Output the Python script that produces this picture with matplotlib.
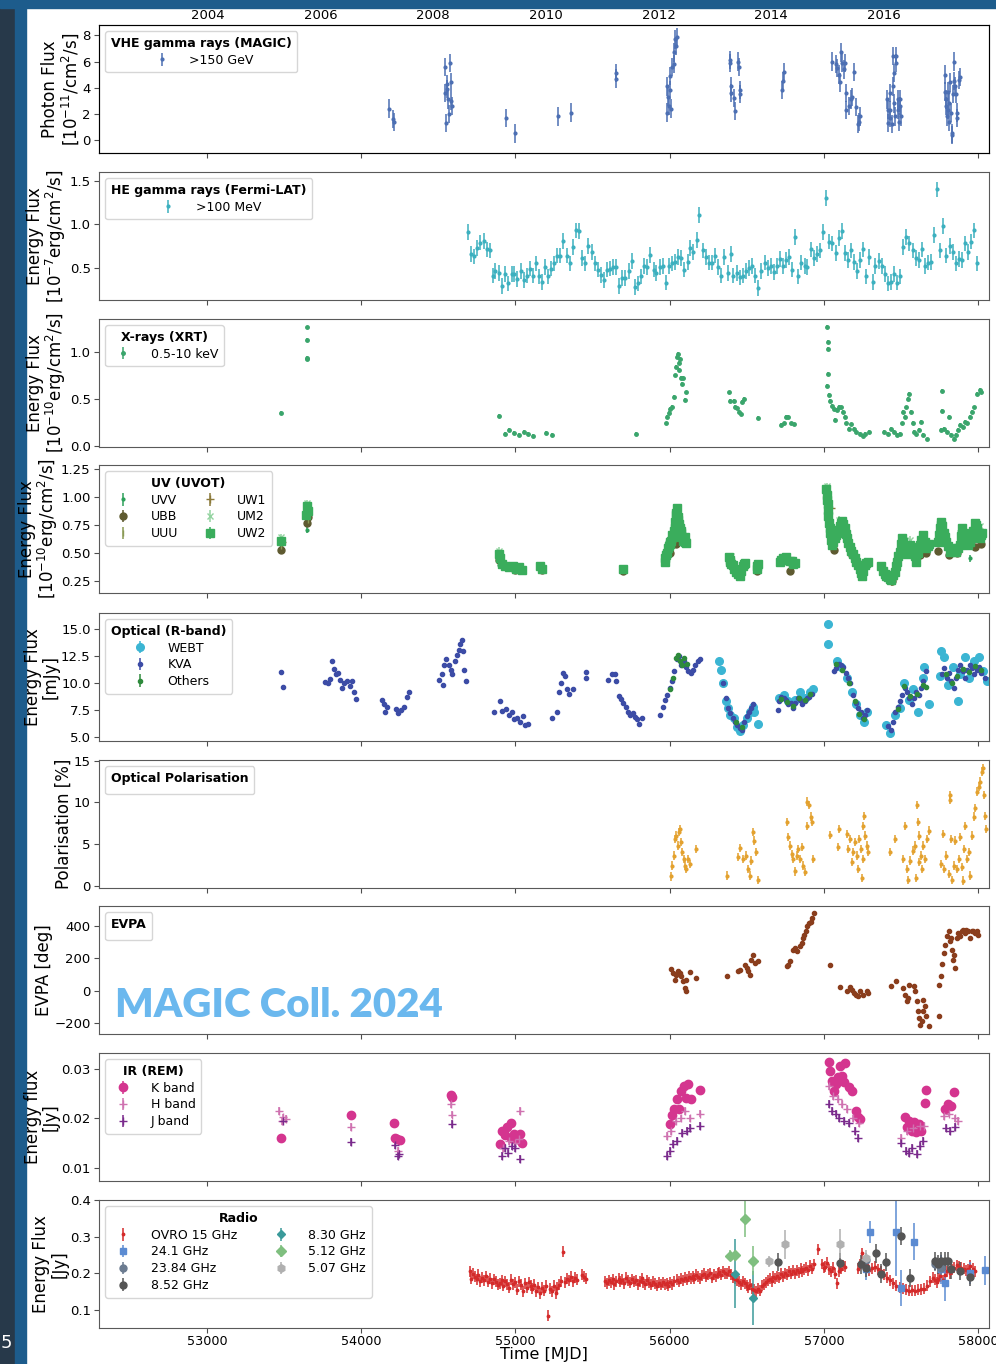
import matplotlib
matplotlib.use("Agg")
import matplotlib.pyplot as plt
from matplotlib.patches import Rectangle
import datetime

# ---------------- data (MJD / flux) ----------------
vhe_mjd = [54179, 54205, 54212, 54542, 54546, 54550, 54553, 54557, 54560, 54566, 54573, 54579, 54584, 54588,
           54938, 54996, 55275, 55359, 55650, 55652,
           55980, 55985, 55990, 55995, 56000, 56005, 56010, 56015, 56025, 56030, 56035, 56040, 56045,
           56390, 56392, 56395, 56397, 56420, 56425, 56445, 56450, 56453, 56455,
           56728, 56733, 56740,
           57050, 57075, 57085, 57095, 57105, 57112, 57120, 57128, 57135, 57142, 57145, 57160, 57175,
           57185, 57195, 57210, 57220, 57228, 57232,
           57406, 57412, 57417, 57425, 57430, 57428, 57440, 57448, 57450, 57452, 57455, 57460, 57465,
           57468, 57478, 57482, 57485, 57490, 57495, 57500,
           57783, 57785, 57788, 57792, 57797, 57802, 57807, 57810, 57813, 57817, 57822, 57827, 57832,
           57835, 57840, 57845, 57850, 57855, 57860, 57864, 57875, 57880]
vhe_flux = [2.4, 1.6, 1.4, 5.6, 3.6, 1.3, 4.3, 3.9, 3.1, 2.0, 5.9, 4.4, 3.0, 2.6,
            1.7, 0.5, 1.8, 2.1, 5.1, 4.7,
            2.1, 4.1, 3.3, 2.6, 4.9, 3.8, 2.4, 5.6, 6.7, 5.8, 7.7, 7.2, 7.9,
            6.1, 5.9, 4.1, 3.6, 3.2, 2.2, 6.0, 5.6, 3.8, 3.5,
            3.8, 4.5, 5.2,
            6.0, 5.8, 5.5, 5.0, 4.4, 6.7, 5.9, 5.4, 5.9, 3.6, 2.3, 2.6, 3.1,
            3.3, 5.2, 2.5, 1.2, 1.4, 1.8,
            3.1, 1.3, 2.3, 3.6, 2.3, 1.7, 1.2, 4.1, 6.4, 5.1, 2.8, 1.8, 5.9,
            6.4, 3.1, 2.3, 1.4, 2.6, 3.1, 1.8,
            5.0, 3.7, 3.1, 2.6, 1.8, 2.3, 3.7, 1.4, 2.8, 4.4, 2.1, 0.5, 0.4,
            3.5, 4.5, 6.0, 4.1, 3.5, 2.1, 1.7, 4.6, 4.8]
vhe_err = 0.7

fermi_mjd = [54693, 54711, 54731, 54752, 54772, 54793, 54813, 54834, 54852, 54870, 54891, 54913, 54934,
             54954, 54975, 54993, 55013, 55034, 55054, 55075, 55095, 55113, 55134, 55154, 55172, 55193,
             55213, 55232, 55252, 55270, 55291, 55311, 55332, 55352, 55372, 55393, 55413, 55432, 55452,
             55472, 55493, 55513, 55534, 55554, 55575, 55593, 55613, 55632, 55650, 55673, 55693, 55713,
             55734, 55754, 55775, 55795, 55816, 55836, 55854, 55875, 55895, 55913, 55934, 55954, 55975,
             55993, 56013, 56034, 56054, 56075, 56095, 56116, 56134, 56154, 56175, 56193, 56213, 56234,
             56254, 56275, 56295, 56316, 56334, 56354, 56375, 56395, 56413, 56434, 56454, 56475, 56495,
             56516, 56534, 56554, 56575, 56595, 56616, 56634, 56654, 56675, 56695, 56716, 56736, 56754,
             56775, 56795, 56814, 56834, 56854, 56875, 56893, 56914, 56934, 56954, 56975, 56995, 57014,
             57034, 57054, 57075, 57095, 57116, 57136, 57154, 57175, 57195, 57216, 57234, 57255, 57275,
             57295, 57316, 57334, 57355, 57375, 57396, 57414, 57434, 57455, 57475, 57495, 57514, 57534,
             57554, 57575, 57595, 57616, 57634, 57654, 57675, 57693, 57714, 57734, 57755, 57775, 57793,
             57814, 57834, 57855, 57875, 57895, 57914, 57934, 57955, 57975, 57995]
fermi_flux = [0.91, 0.66, 0.63, 0.73, 0.79, 0.81, 0.71, 0.70, 0.41, 0.46, 0.44, 0.29, 0.43,
              0.32, 0.43, 0.43, 0.37, 0.46, 0.36, 0.41, 0.49, 0.41, 0.55, 0.40, 0.34, 0.51,
              0.40, 0.49, 0.55, 0.64, 0.64, 0.81, 0.64, 0.55, 0.74, 0.93, 0.92, 0.61, 0.55,
              0.75, 0.68, 0.55, 0.48, 0.42, 0.36, 0.48, 0.49, 0.51, 0.51, 0.29, 0.38, 0.38,
              0.46, 0.58, 0.28, 0.32, 0.40, 0.52, 0.51, 0.65, 0.48, 0.44, 0.51, 0.52, 0.33,
              0.52, 0.55, 0.57, 0.62, 0.61, 0.48, 0.57, 0.73, 0.68, 0.82, 1.11, 0.70, 0.62,
              0.56, 0.56, 0.64, 0.51, 0.41, 0.62, 0.44, 0.66, 0.41, 0.44, 0.39, 0.41, 0.46,
              0.50, 0.52, 0.41, 0.27, 0.46, 0.56, 0.50, 0.52, 0.45, 0.52, 0.60, 0.52, 0.59,
              0.62, 0.48, 0.85, 0.40, 0.56, 0.52, 0.51, 0.71, 0.61, 0.66, 0.70, 0.91, 1.30,
              0.80, 0.78, 0.67, 0.84, 0.92, 0.67, 0.59, 0.70, 0.57, 0.46, 0.59, 0.71, 0.40,
              0.62, 0.34, 0.52, 0.58, 0.52, 0.43, 0.32, 0.34, 0.43, 0.33, 0.40, 0.74, 0.85,
              0.78, 0.70, 0.61, 0.59, 0.71, 0.52, 0.56, 0.57, 0.88, 1.40, 0.70, 0.98, 0.64,
              0.75, 0.68, 0.55, 0.60, 0.59, 0.78, 0.68, 0.80, 0.93, 0.55]
fermi_err = 0.09

xrt_mjd = [53481, 53647, 53647, 53648, 53649, 54893, 54935, 54959, 54990, 55020, 55053, 55083, 55113,
           55201, 55234, 55783,
           55976, 55985, 55994, 56003, 56012, 56027, 56036, 56042, 56045, 56051, 56057, 56063, 56069,
           56075, 56081, 56087, 56097, 56103,
           56386, 56392, 56417, 56423, 56435, 56447, 56459, 56471, 56483, 56573,
           56724, 56739, 56754, 56769, 56784, 56809,
           57020, 57023, 57023, 57029, 57020, 57032, 57038, 57050, 57062, 57074, 57086, 57098, 57110,
           57122, 57134, 57146, 57161, 57177, 57192, 57207, 57231, 57252, 57267, 57292,
           57388, 57412, 57436, 57454, 57472, 57493, 57509, 57515, 57524, 57533, 57545, 57554, 57563,
           57575, 57587, 57599, 57614, 57629, 57644, 57666,
           57756, 57768, 57768, 57780, 57795, 57810, 57825, 57840, 57855, 57870, 57885, 57900, 57915,
           57930, 57945, 57960, 57975, 57990, 58009, 58021]
xrt_flux = [0.35, 1.26, 1.13, 0.94, 0.92, 0.32, 0.13, 0.17, 0.14, 0.12, 0.15, 0.13, 0.11,
            0.14, 0.12, 0.13,
            0.24, 0.31, 0.35, 0.39, 0.42, 0.52, 0.75, 0.84, 0.95, 0.98, 0.88, 0.81, 0.93,
            0.72, 0.66, 0.72, 0.49, 0.57,
            0.57, 0.48, 0.48, 0.42, 0.40, 0.36, 0.34, 0.47, 0.50, 0.30,
            0.22, 0.24, 0.31, 0.31, 0.24, 0.23,
            1.27, 1.11, 1.03, 0.77, 0.64, 0.54, 0.48, 0.43, 0.39, 0.28, 0.38, 0.42, 0.41,
            0.36, 0.31, 0.24, 0.18, 0.23, 0.18, 0.15, 0.13, 0.11, 0.13, 0.15,
            0.15, 0.13, 0.18, 0.15, 0.12, 0.13, 0.24, 0.36, 0.31, 0.41, 0.50, 0.55, 0.36,
            0.25, 0.15, 0.13, 0.17, 0.26, 0.12, 0.07,
            0.17, 0.59, 0.37, 0.18, 0.15, 0.31, 0.12, 0.08, 0.12, 0.17, 0.22, 0.20, 0.26,
            0.24, 0.31, 0.36, 0.41, 0.55, 0.60, 0.57]
xrt_err = 0.02

uw2_mjd = [53480, 53645, 53650, 53655, 54892, 54900, 54915, 54935, 54960, 54985, 55005, 55025, 55040, 55160, 55175,
           55700, 55968, 55978, 55989, 56000, 56011, 56022, 56032, 56039, 56048, 56056, 56065, 56076, 56086,
           56097, 56108, 56384, 56393, 56410, 56432, 56454, 56475, 56486, 56566, 56572, 56713, 56734, 56756,
           56778, 56810, 57015, 57020, 57026, 57032, 57041, 57054, 57069, 57084, 57102, 57119, 57134, 57149,
           57166, 57188, 57210, 57231, 57248, 57264, 57285, 57372, 57393, 57415, 57436, 57458, 57473, 57490,
           57508, 57523, 57538, 57555, 57577, 57598, 57620, 57642, 57663, 57680, 57739, 57750, 57761, 57776,
           57793, 57814, 57836, 57858, 57879, 57897, 57912, 57933, 57955, 57976, 57991, 58009, 58026,
           55972, 55983, 55995, 56005, 56016, 56027, 56036, 56044, 56052, 56060, 56070, 56081, 56092, 56102,
           56388, 56400, 56420, 56442, 56465, 56480, 56569, 56720, 56745, 56790, 56800,
           57018, 57023, 57029, 57036, 57047, 57060, 57076, 57092, 57110, 57126, 57141, 57157, 57177, 57199,
           57220, 57240, 57256, 57275, 57382, 57404, 57425, 57447, 57465, 57482, 57500, 57515, 57530, 57546,
           57566, 57588, 57609, 57631, 57652, 57672, 57744, 57756, 57768, 57785, 57803, 57825, 57847, 57868,
           57888, 57905, 57922, 57944, 57965, 57984, 58000, 58018]
uw2_flux = [0.61, 0.84, 0.92, 0.88, 0.49, 0.45, 0.40, 0.38, 0.37, 0.38, 0.36, 0.37, 0.35, 0.38, 0.36,
            0.36, 0.42, 0.48, 0.54, 0.58, 0.61, 0.64, 0.72, 0.84, 0.90, 0.80, 0.72, 0.68, 0.61,
            0.64, 0.59, 0.46, 0.42, 0.39, 0.33, 0.29, 0.38, 0.41, 0.38, 0.40, 0.42, 0.45, 0.46,
            0.43, 0.41, 1.07, 0.98, 0.89, 0.77, 0.68, 0.57, 0.63, 0.68, 0.74, 0.79, 0.72, 0.63,
            0.55, 0.49, 0.42, 0.36, 0.29, 0.39, 0.42, 0.38, 0.31, 0.28, 0.26, 0.33, 0.42, 0.51,
            0.63, 0.57, 0.49, 0.57, 0.51, 0.42, 0.57, 0.66, 0.54, 0.58, 0.60, 0.72, 0.78, 0.68,
            0.60, 0.51, 0.54, 0.51, 0.57, 0.72, 0.63, 0.57, 0.63, 0.77, 0.72, 0.63, 0.68,
            0.45, 0.50, 0.56, 0.60, 0.66, 0.70, 0.78, 0.86, 0.82, 0.76, 0.70, 0.64, 0.62, 0.60,
            0.44, 0.40, 0.36, 0.31, 0.34, 0.40, 0.36, 0.44, 0.44, 0.43, 0.40,
            1.02, 0.94, 0.83, 0.72, 0.62, 0.60, 0.66, 0.71, 0.77, 0.76, 0.67, 0.59, 0.52, 0.45,
            0.39, 0.32, 0.34, 0.41, 0.34, 0.29, 0.27, 0.30, 0.38, 0.47, 0.58, 0.60, 0.53, 0.54,
            0.55, 0.47, 0.50, 0.62, 0.60, 0.56, 0.66, 0.75, 0.74, 0.64, 0.56, 0.52, 0.53, 0.54,
            0.65, 0.68, 0.60, 0.60, 0.70, 0.75, 0.68, 0.66]
ubb_mjd = [53480, 53648, 53652, 54892, 55000, 55170, 55700, 56000, 56040, 56070, 56100, 56480, 56566, 56778,
           57040, 57062, 57180, 57260, 57420, 57440, 57520, 57560, 57620, 57660, 57742, 57810, 57860,
           57980, 58020]
ubb_flux = [0.53, 0.77, 0.82, 0.44, 0.35, 0.35, 0.34, 0.50, 0.58, 0.64, 0.60, 0.38, 0.34, 0.34,
            0.72, 0.53, 0.48, 0.38, 0.27, 0.25, 0.50, 0.52, 0.48, 0.50, 0.52, 0.48, 0.50, 0.55, 0.58]
uvv_mjd = [53480, 53650, 54895, 54990, 55980, 56020, 56060, 56400, 56450, 57030, 57100, 57200, 57430,
           57520, 57600, 57760, 57850, 57950, 58000]
uvv_flux = [0.55, 0.71, 0.39, 0.34, 0.44, 0.60, 0.70, 0.38, 0.30, 0.85, 0.70, 0.42, 0.26,
            0.55, 0.45, 0.62, 0.50, 0.45, 0.62]
uuu_mjd = [53482, 53652, 54898, 56010, 56050, 56420, 57035, 57090, 57440, 57540, 57780, 57900]
uuu_flux = [0.56, 0.80, 0.46, 0.56, 0.78, 0.40, 0.95, 0.74, 0.24, 0.58, 0.66, 0.62]
uw1_mjd = [53484, 53655, 54900, 56015, 56055, 56440, 57045, 57110, 57450, 57600, 57800, 57970]
uw1_flux = [0.60, 0.86, 0.47, 0.60, 0.82, 0.36, 0.90, 0.76, 0.27, 0.50, 0.58, 0.64]
um2_mjd = [53478, 53646, 54894, 55990, 56045, 56400, 57018, 57095, 57430, 57560, 57755, 57880, 58010]
um2_flux = [0.64, 0.95, 0.52, 0.58, 0.90, 0.47, 1.10, 0.80, 0.30, 0.62, 0.78, 0.68, 0.74]

kva_mjd = [53481, 53490, 53768, 53783, 53798, 53813, 53822, 53834, 53852, 53864, 53876, 53888, 53906, 53925,
           53943, 53952, 53964, 54136, 54145, 54154, 54166, 54226, 54241, 54257, 54275, 54296, 54311,
           54507, 54522, 54528, 54537, 54552, 54567, 54582, 54591, 54606, 54619, 54631, 54643, 54652,
           54661, 54667, 54679, 54863, 54899, 54914, 54938, 54959, 54975, 54990, 55011, 55029, 55050,
           55065, 55080, 55237, 55267, 55282, 55297, 55306, 55319, 55334, 55349, 55373, 55457, 55460,
           55602, 55623, 55644, 55653, 55668, 55683, 55698, 55714, 55729, 55744, 55759, 55774, 55789,
           55804, 55819, 55940, 55955, 55970, 55985, 56000, 56015, 56030, 56045, 56061, 56076, 56091,
           56106, 56121, 56136, 56151, 56166, 56181, 56196, 56347, 56362, 56377, 56392, 56408, 56423,
           56438, 56453, 56468, 56483, 56498, 56513, 56528, 56543, 56700, 56709, 56724, 56739, 56754,
           56769, 56784, 56799, 56814, 56829, 56844, 56860, 56875, 56890, 56905, 56920, 57065, 57080,
           57095, 57110, 57125, 57140, 57155, 57170, 57191, 57207, 57222, 57237, 57252, 57267, 57282,
           57418, 57433, 57448, 57463, 57478, 57493, 57508, 57523, 57538, 57553, 57568, 57584, 57599,
           57614, 57629, 57644, 57659, 57765, 57780, 57795, 57810, 57825, 57840, 57855, 57870, 57885,
           57900, 57915, 57930, 57945, 57960, 57975, 57990, 58006, 58021, 58045]
kva_flux = [11.0, 9.6, 10.1, 10.0, 10.4, 12.0, 11.3, 10.8, 10.9, 10.3, 9.5, 10.0, 10.2, 9.7,
            10.2, 9.2, 8.5, 8.4, 8.0, 7.3, 7.8, 7.6, 7.2, 7.5, 7.8, 8.7, 9.2,
            10.3, 10.8, 9.8, 11.7, 12.2, 11.7, 11.2, 10.8, 12.0, 12.6, 13.1, 13.6, 14.0,
            13.0, 11.2, 10.2, 7.3, 8.3, 7.4, 7.6, 7.0, 7.3, 6.6, 6.7, 6.4, 6.9,
            6.1, 6.2, 6.7, 7.3, 9.2, 10.0, 10.9, 10.6, 9.4, 9.0, 9.4, 11.0, 10.5,
            10.3, 10.8, 10.8, 10.2, 8.8, 8.5, 8.1, 7.8, 7.3, 7.0, 7.2, 6.8, 6.6,
            6.2, 6.7, 7.0, 7.8, 8.4, 8.9, 9.5, 10.2, 11.1, 12.2, 12.5, 11.7, 12.0,
            11.5, 11.1, 10.9, 11.2, 11.7, 12.0, 12.2, 10.0, 8.6, 7.7, 7.2, 6.7, 6.4,
            6.1, 5.8, 5.6, 6.4, 6.9, 7.3, 7.7, 8.0, 7.5, 8.3, 8.7, 8.6, 8.4,
            8.0, 8.1, 7.7, 8.1, 8.6, 8.4, 8.0, 8.3, 8.6, 8.7, 9.0, 11.1, 11.4,
            11.8, 11.7, 11.5, 10.9, 10.5, 10.0, 8.9, 8.1, 7.7, 7.3, 6.7, 7.0, 7.5,
            6.0, 5.6, 6.4, 7.3, 7.8, 8.3, 8.9, 9.5, 9.2, 8.6, 8.0, 8.6, 9.2,
            8.9, 9.5, 10.2, 11.1, 10.8, 11.4, 10.5, 10.9, 10.2, 9.5, 10.5, 11.2, 11.7,
            11.1, 10.5, 11.2, 11.7, 11.4, 10.8, 11.2, 11.5, 10.9, 10.5]
webt_mjd = [56317, 56332, 56347, 56362, 56377, 56392, 56415, 56437, 56458, 56477, 56498, 56519, 56537,
            56549, 56573, 56709, 56739, 56769, 56814, 56844, 56880, 56910, 56928,
            57023, 57029, 57083, 57113, 57149, 57179, 57210, 57234, 57258, 57279,
            57400, 57430, 57460, 57490, 57520, 57550, 57580, 57611, 57641, 57650, 57680,
            57752, 57761, 57776, 57807, 57837, 57867, 57882, 57912, 57942, 57972, 58002, 58033, 58054]
webt_flux = [12.0, 11.2, 10.0, 8.3, 7.7, 7.0, 6.7, 5.9, 5.5, 6.1, 6.7, 7.3, 7.8,
             7.3, 6.2, 8.6, 8.9, 8.3, 8.4, 9.2, 8.6, 9.2, 9.4,
             15.5, 13.6, 12.0, 11.5, 10.5, 9.2, 8.0, 7.0, 6.4, 7.3,
             6.1, 5.3, 7.0, 7.7, 10.0, 8.4, 9.4, 7.3, 10.5, 11.5, 8.0,
             10.6, 13.0, 12.4, 9.8, 11.5, 8.3, 10.8, 12.4, 10.5, 12.0, 12.4, 11.1, 10.2]
oth_mjd = [56000, 56020, 56040, 56055, 56065, 56080, 56095, 56110, 56430, 56470, 56720, 56760, 56800,
           56840, 56880, 56910, 57080, 57120, 57160, 57200, 57230, 57260, 57480, 57520, 57560, 57600,
           57640, 57660, 57790, 57830, 57860, 57900, 57940, 57980, 58020]
oth_flux = [9.4, 10.5, 12.3, 12.6, 12.0, 11.7, 12.3, 11.8, 6.4, 5.9, 8.5, 8.2, 7.9,
            8.6, 8.4, 9.0, 11.8, 11.2, 10.0, 8.3, 7.1, 6.6, 7.6, 9.7, 8.8, 9.0,
            9.8, 9.6, 10.8, 10.0, 10.6, 11.3, 11.0, 11.6, 11.2]

pol_mjd = [56011, 56017, 56026, 56032, 56043, 56054, 56061, 56069, 56076, 56082, 56091, 56097, 56108,
           56119, 56134, 56173, 56372, 56444, 56455, 56476, 56493, 56509, 56520, 56530, 56541, 56545,
           56559, 56574, 56758, 56768, 56780, 56791, 56801, 56812, 56823, 56833, 56844, 56856, 56866,
           56877, 56888, 56892, 56905, 56916, 56923, 56931, 57039, 57093, 57100, 57147, 57158, 57169,
           57180, 57191, 57201, 57212, 57223, 57230, 57238, 57245, 57251, 57256, 57262, 57269, 57277,
           57288, 57429, 57461, 57515, 57526, 57537, 57548, 57559, 57580, 57591, 57598, 57602, 57608,
           57613, 57619, 57628, 57635, 57645, 57656, 57667, 57684, 57758, 57771, 57780, 57793, 57808,
           57814, 57815, 57825, 57829, 57840, 57851, 57862, 57873, 57883, 57894, 57900, 57909, 57916,
           57927, 57938, 57949, 57959, 57970, 57981, 57992, 58003, 58013, 58024, 58028, 58035, 58046,
           58052]
pol_deg = [1.1, 2.4, 3.6, 5.6, 6.0, 4.8, 6.4, 6.8, 5.2, 4.0, 3.2, 2.4, 2.0,
           3.2, 2.6, 4.4, 1.2, 3.4, 4.5, 3.2, 3.6, 2.0, 1.2, 3.0, 6.4, 5.4,
           4.0, 0.7, 7.6, 5.8, 4.8, 3.8, 3.2, 1.7, 3.6, 4.4, 3.2, 4.6, 2.4,
           1.6, 7.2, 10.1, 9.7, 8.3, 7.6, 3.2, 6.1, 4.6, 6.8, 6.2, 4.4, 5.6,
           2.8, 4.0, 5.2, 3.6, 2.0, 5.6, 4.4, 0.9, 3.2, 7.2, 8.4, 6.0, 4.8,
           4.0, 4.0, 5.6, 3.2, 7.2, 2.0, 0.7, 3.0, 4.2, 4.8, 0.9, 9.7, 7.6,
           6.0, 2.8, 3.6, 2.0, 4.8, 3.2, 5.6, 6.6, 2.6, 6.2, 2.0, 3.6, 1.4,
           10.9, 10.3, 5.6, 0.7, 2.4, 5.4, 2.0, 3.2, 5.8, 2.2, 0.6, 4.4, 7.2,
           3.2, 4.0, 1.2, 6.0, 8.3, 9.3, 11.3, 11.9, 12.5, 13.7, 14.1, 10.9, 8.4,
           6.8]
pol_err = 0.5

evpa_mjd = [56011, 56022, 56032, 56043, 56054, 56065, 56076, 56087, 56097, 56104, 56108, 56134, 56173,
            56372, 56444, 56455, 56487, 56498, 56509, 56520, 56530, 56541, 56552, 56574,
            56758, 56768, 56780, 56797, 56812, 56827, 56845, 56856, 56866, 56873, 56884, 56892, 56905,
            56916, 56924, 56935, 57039, 57104, 57147, 57169, 57180, 57195, 57208, 57223, 57234, 57256,
            57277, 57288, 57433, 57465, 57511, 57526, 57537, 57548, 57554, 57584, 57591, 57602, 57608,
            57615, 57624, 57635, 57645, 57641, 57652, 57663, 57678, 57743, 57749, 57758, 57765, 57776,
            57787, 57797, 57808, 57819, 57823, 57830, 57836, 57843, 57849, 57860, 57871, 57881, 57892,
            57903, 57914, 57924, 57935, 57946, 57957, 57968, 57978, 57989, 58000]
evpa_deg = [136, 109, 68, 99, 120, 109, 89, 58, 17, -4, 68, 113, 79,
            89, 120, 130, 161, 140, 120, 99, 192, 223, 171, 182,
            151, 161, 182, 254, 264, 247, 274, 295, 326, 346, 367, 398, 418,
            428, 449, 480, 157, 21, -4, 21, 7, -14, -25, -35, -4, -25,
            -4, -14, 27, 58, 17, -25, -66, -45, 37, 27, -4, -66, -128,
            -169, -210, -189, -128, -56, -97, -159, -220, -159, 37, 89, 165, 233,
            285, 336, 367, 309, 326, 254, 192, 223, 140, 326, 357, 336, 367,
            377, 357, 377, 367, 326, 367, 367, 357, 367, 346]

k_mjd = [53481, 53934, 54211, 54220, 54235, 54250, 54582, 54588, 54899, 54914, 54929, 54944, 54968,
         54974, 54989, 55011, 55029, 55041, 56000, 56015, 56030, 56045, 56061, 56076, 56091, 56106,
         56121, 56136, 56197, 57032, 57041, 57050, 57062, 57077, 57092, 57104, 57114, 57129, 57139,
         57160, 57181, 57205, 57220, 57235, 57524, 57539, 57554, 57569, 57584, 57599, 57614, 57629,
         57653, 57659, 57786, 57804, 57825, 57846]
k_flux = [0.0160, 0.0208, 0.0190, 0.0160, 0.0158, 0.0156, 0.0247, 0.0243, 0.0149, 0.0175, 0.0167, 0.0182,
          0.0190, 0.0160, 0.0168, 0.0158, 0.0168, 0.0151, 0.0189, 0.0208, 0.0219, 0.0239, 0.0219, 0.0256,
          0.0266, 0.0242, 0.0269, 0.0239, 0.0257, 0.0313, 0.0296, 0.0276, 0.0256, 0.0269, 0.0283, 0.0306,
          0.0286, 0.0273, 0.0311, 0.0263, 0.0256, 0.0215, 0.0202, 0.0199, 0.0202, 0.0182, 0.0195, 0.0175,
          0.0192, 0.0172, 0.0189, 0.0175, 0.0232, 0.0257, 0.0219, 0.0229, 0.0226, 0.0253]
h_mjd = [53470, 53485, 53495, 53510, 53934, 54240, 54582, 54588, 54920, 54960, 55000, 55020, 55029,
         55980, 56010, 56040, 56070, 56100, 56130, 56197, 57032, 57060, 57090, 57120, 57150, 57190,
         57225, 57500, 57540, 57580, 57620, 57650, 57780, 57810, 57850, 57870]
h_flux = [0.0215, 0.0195, 0.0202, 0.0199, 0.0183, 0.0135, 0.0229, 0.0208, 0.0140, 0.0155, 0.0150, 0.0158,
          0.0215, 0.0165, 0.0175, 0.0195, 0.0200, 0.0215, 0.0200, 0.0210, 0.0265, 0.0245, 0.0240, 0.0230,
          0.0220, 0.0200, 0.0190, 0.0160, 0.0175, 0.0180, 0.0185, 0.0185, 0.0205, 0.0210, 0.0200, 0.0195]
j_mjd = [53490, 53934, 54220, 54240, 54245, 54588, 54910, 54930, 54950, 54975, 55000, 55030, 55980,
         56000, 56020, 56050, 56080, 56110, 56130, 56197, 57032, 57050, 57080, 57100, 57130, 57160,
         57200, 57220, 57500, 57530, 57550, 57570, 57600, 57620, 57640, 57790, 57820, 57850]
j_flux = [0.0195, 0.0152, 0.0146, 0.0124, 0.0128, 0.0188, 0.0125, 0.0140, 0.0130, 0.0145, 0.0140, 0.0118,
          0.0125, 0.0135, 0.0148, 0.0155, 0.0170, 0.0175, 0.0180, 0.0185, 0.0230, 0.0215, 0.0210, 0.0200,
          0.0195, 0.0190, 0.0175, 0.0160, 0.0150, 0.0135, 0.0130, 0.0140, 0.0128, 0.0145, 0.0155, 0.0180,
          0.0175, 0.0183]
ir_err = 0.0008

ovro_mjd = [54704, 54712, 54722, 54735, 54748, 54760, 54772, 54785, 54798, 54810, 54822, 54835, 54848,
            54860, 54872, 54885, 54898, 54910, 54922, 54935, 54948, 54960, 54972, 54985, 54998, 55010,
            55022, 55035, 55048, 55060, 55072, 55085, 55098, 55110, 55122, 55135, 55148, 55160, 55172,
            55185, 55198, 55210, 55222, 55235, 55248, 55260, 55272, 55285, 55298, 55310, 55320, 55332,
            55345, 55358, 55370, 55385, 55400, 55430, 55445, 55460, 55580, 55592, 55605, 55618, 55630,
            55642, 55655, 55668, 55680, 55692, 55705, 55718, 55730, 55742, 55755, 55768, 55780, 55792,
            55805, 55818, 55830, 55842, 55855, 55868, 55880, 55892, 55905, 55918, 55930, 55942, 55955,
            55968, 55980, 55992, 56005, 56018, 56030, 56045, 56060, 56072, 56085, 56098, 56110, 56122,
            56135, 56148, 56160, 56172, 56185, 56198, 56210, 56222, 56235, 56248, 56260, 56272, 56285,
            56298, 56310, 56322, 56335, 56348, 56360, 56372, 56385, 56398, 56410, 56422, 56435, 56448,
            56460, 56472, 56485, 56498, 56510, 56522, 56535, 56548, 56560, 56572, 56585, 56598, 56610,
            56622, 56635, 56648, 56660, 56672, 56685, 56698, 56710, 56722, 56735, 56748, 56760, 56772,
            56785, 56798, 56810, 56822, 56835, 56848, 56860, 56872, 56885, 56898, 56910, 56922, 56935,
            56960, 56985, 56998, 57010, 57022, 57035, 57048, 57060, 57072, 57085, 57098, 57110, 57122,
            57135, 57220, 57232, 57245, 57258, 57270, 57282, 57295, 57310, 57330, 57350, 57370, 57390,
            57410, 57430, 57450, 57470, 57490, 57510, 57530, 57550, 57570, 57590, 57610, 57630, 57650,
            57670, 57690, 57705, 57718, 57730, 57742, 57755, 57770, 57785, 57800, 57815, 57830, 57845,
            57860, 57875, 57890, 57905, 57920, 57935, 57950, 57965, 57980]
ovro_flux = [0.205, 0.185, 0.198, 0.190, 0.183, 0.195, 0.178, 0.188, 0.180, 0.192, 0.176, 0.185, 0.172,
             0.183, 0.176, 0.168, 0.173, 0.180, 0.165, 0.178, 0.170, 0.160, 0.182, 0.169, 0.175, 0.155,
             0.178, 0.168, 0.150, 0.172, 0.160, 0.175, 0.165, 0.158, 0.168, 0.150, 0.162, 0.145, 0.160,
             0.152, 0.165, 0.083, 0.158, 0.150, 0.165, 0.145, 0.160, 0.168, 0.178, 0.258, 0.175, 0.185,
             0.180, 0.190, 0.178, 0.188, 0.182, 0.195, 0.190, 0.185, 0.178, 0.172, 0.180, 0.175, 0.183,
             0.170, 0.178, 0.185, 0.176, 0.182, 0.172, 0.188, 0.179, 0.174, 0.184, 0.176, 0.181, 0.170,
             0.178, 0.186, 0.175, 0.169, 0.180, 0.174, 0.168, 0.176, 0.171, 0.165, 0.174, 0.168, 0.175,
             0.170, 0.172, 0.166, 0.175, 0.170, 0.178, 0.182, 0.176, 0.185, 0.180, 0.188, 0.182, 0.190,
             0.186, 0.192, 0.185, 0.195, 0.190, 0.186, 0.194, 0.198, 0.190, 0.196, 0.200, 0.188, 0.195,
             0.192, 0.198, 0.203, 0.196, 0.205, 0.200, 0.198, 0.205, 0.196, 0.188, 0.185, 0.180, 0.176,
             0.170, 0.178, 0.172, 0.166, 0.160, 0.168, 0.158, 0.155, 0.150, 0.158, 0.152, 0.165, 0.170,
             0.175, 0.180, 0.185, 0.178, 0.190, 0.186, 0.192, 0.188, 0.198, 0.192, 0.200, 0.195, 0.205,
             0.198, 0.206, 0.200, 0.208, 0.203, 0.212, 0.205, 0.210, 0.215, 0.208, 0.220, 0.212, 0.225,
             0.265, 0.225, 0.215, 0.218, 0.228, 0.210, 0.205, 0.215, 0.198, 0.172, 0.205, 0.212, 0.222,
             0.218, 0.212, 0.225, 0.255, 0.218, 0.212, 0.222, 0.208, 0.214, 0.218, 0.210, 0.205, 0.196,
             0.188, 0.180, 0.172, 0.166, 0.160, 0.157, 0.154, 0.152, 0.153, 0.152, 0.155, 0.156, 0.158,
             0.166, 0.178, 0.188, 0.182, 0.175, 0.185, 0.192, 0.180, 0.195, 0.205, 0.200, 0.210, 0.215,
             0.222, 0.218, 0.215, 0.212, 0.208, 0.210, 0.220, 0.212, 0.205]
ovro_err = 0.015

r241_mjd = [57274, 57300, 57469, 57501, 57581, 57760, 57782, 57944, 58041]
r241_flux = [0.211, 0.313, 0.313, 0.159, 0.286, 0.210, 0.173, 0.200, 0.208]
r241_err = [0.03, 0.03, 0.12, 0.05, 0.05, 0.04, 0.05, 0.03, 0.04]
r2384_mjd = [57270, 57717, 57760]
r2384_flux = [0.235, 0.225, 0.215]
r852_mjd = [56702, 57102, 57242, 57274, 57339, 57372, 57404, 57501, 57560, 57717, 57739, 57760, 57782,
            57804, 57825, 57879, 57944]
r852_flux = [0.230, 0.229, 0.224, 0.215, 0.254, 0.199, 0.230, 0.302, 0.187, 0.233, 0.224, 0.233, 0.233,
             0.233, 0.210, 0.206, 0.190]
r852_err = 0.025
r830_mjd = [56421, 56540]
r830_flux = [0.199, 0.132]
r830_err = [0.095, 0.075]
r512_mjd = [56389, 56421, 56490, 56540]
r512_flux = [0.247, 0.249, 0.348, 0.234]
r512_err = [0.015, 0.015, 0.05, 0.04]
r507_mjd = [56644, 56745, 57102, 57274]
r507_flux = [0.233, 0.279, 0.281, 0.242]
r507_err = [0.015, 0.04, 0.04, 0.02]

years = [2004, 2006, 2008, 2010, 2012, 2014, 2016]

# ---------------- figure ----------------
W, H = 996, 1364
fig = plt.figure(figsize=(W / 100, H / 100), dpi=100)
# slide border around the screenshot
fig.patches.append(Rectangle((0, 0), 15 / W, 1, transform=fig.transFigure, color='#27394a', zorder=-5))
fig.patches.append(Rectangle((15 / W, 0), 11 / W, 1, transform=fig.transFigure, color='#1d5c8c', zorder=-5))
fig.patches.append(Rectangle((0, 1 - 8 / H), 1, 8 / H, transform=fig.transFigure, color='#1d5c8c', zorder=-5))
fig.text(6 / W, 1 - 1343 / H, '5', color='white', fontsize=13, va='center', ha='center')

XL, XR = 52300, 58070
left, right = 99, 989
tops = [25, 172, 319, 465, 613, 760, 906, 1053, 1200]
ph = 128
LAB = 12

axes = []
for t in tops:
    ax = fig.add_axes([left / W, 1 - (t + ph) / H, (right - left) / W, ph / H])
    ax.set_xlim(XL, XR)
    ax.set_xticks([53000, 54000, 55000, 56000, 57000, 58000])
    ax.tick_params(labelsize=9.5, labelbottom=False, color='0.3', pad=2.5)
    ax.tick_params(axis='x', labelsize=9.2, pad=1.5)
    for s in ax.spines.values():
        s.set_color('0.35')
    axes.append(ax)
axes[-1].tick_params(labelbottom=True)
axes[-1].set_xlabel('Time [MJD]', fontsize=11.5, labelpad=-1)

LEG = dict(loc='upper left', fontsize=9, title_fontproperties={'weight': 'bold', 'size': 9},
           borderpad=0.45, handletextpad=1.2, labelspacing=0.3)


def eb(ax, x, y, err, color, fmt='.', ms=4, label=None, **kw):
    ax.errorbar(x, y, yerr=err, fmt=fmt, color=color, ms=ms, elinewidth=1.1, label=label, **kw)


def ylab(ax, text):
    ax.set_ylabel(text, fontsize=LAB, labelpad=1, linespacing=1.0)


# 1 VHE
ax = axes[0]
eb(ax, vhe_mjd, vhe_flux, vhe_err, '#4c6fb3', fmt='.', ms=4, label='>150 GeV')
ax.set_ylim(-1.0, 8.8)
ax.set_yticks([0, 2, 4, 6, 8])
ylab(ax, 'Photon Flux\n[10$^{-11}$/cm$^2$/s]')
ax.legend(title='VHE gamma rays (MAGIC)', **LEG)
top = ax.twiny()
top.set_xlim(XL, XR)
year_mjd = [(datetime.date(y, 1, 1) - datetime.date(1858, 11, 17)).days for y in years]
top.set_xticks(year_mjd)
top.set_xticklabels([str(y) for y in years])
top.tick_params(labelsize=9.5, length=0, pad=2)

# 2 Fermi
ax = axes[1]
eb(ax, fermi_mjd, fermi_flux, fermi_err, '#3cb0bf', ms=4, label='>100 MeV')
ax.set_ylim(0.13, 1.6)
ax.set_yticks([0.5, 1.0, 1.5])
ylab(ax, 'Energy Flux\n[10$^{-7}$erg/cm$^2$/s]')
ax.legend(title='HE gamma rays (Fermi-LAT)', **LEG)

# 3 X-rays
ax = axes[2]
eb(ax, xrt_mjd, xrt_flux, xrt_err, '#3aa56c', fmt='o', ms=2.5, label='0.5-10 keV')
ax.set_ylim(-0.01, 1.35)
ax.set_yticks([0.0, 0.5, 1.0])
ylab(ax, 'Energy Flux\n[10$^{-10}$erg/cm$^2$/s]')
ax.legend(title='X-rays (XRT)', **LEG)

# 4 UV
ax = axes[3]
eb(ax, uvv_mjd, uvv_flux, 0.03, '#2ca05a', fmt='.', ms=4, label='UVV')
eb(ax, ubb_mjd, ubb_flux, 0.02, '#5e5a30', fmt='o', ms=5, label='UBB')
eb(ax, uuu_mjd, uuu_flux, 0.04, '#8a9a55', fmt='|', ms=5, label='UUU')
eb(ax, uw1_mjd, uw1_flux, 0.03, '#8c7a3a', fmt='+', ms=6, label='UW1')
eb(ax, um2_mjd, um2_flux, 0.03, '#93d3a0', fmt='x', ms=5, label='UM2')
eb(ax, uw2_mjd, uw2_flux, 0.03, '#3aad5c', fmt='s', ms=5.5, label='UW2')
ax.set_ylim(0.14, 1.29)
ax.set_yticks([0.25, 0.5, 0.75, 1.0, 1.25])
ylab(ax, 'Energy Flux\n[10$^{-10}$erg/cm$^2$/s]')
ax.legend(title='UV (UVOT)', ncol=2, columnspacing=1.5, **LEG)

# 5 Optical
ax = axes[4]
eb(ax, webt_mjd, webt_flux, 0.15, '#3bb5d3', fmt='o', ms=5.5, label='WEBT')
eb(ax, kva_mjd, kva_flux, 0.1, '#3c4ca6', fmt='o', ms=3, label='KVA')
eb(ax, oth_mjd, oth_flux, 0.1, '#2e8a3c', fmt='o', ms=3, label='Others')
ax.set_ylim(4.6, 16.5)
ax.set_yticks([5.0, 7.5, 10.0, 12.5, 15.0])
ylab(ax, 'Energy Flux\n[mJy]')
ax.legend(title='Optical (R-band)', **LEG)

# 6 Polarisation
ax = axes[5]
eb(ax, pol_mjd, pol_deg, pol_err, '#e3a12e', fmt='.', ms=4)
ax.set_ylim(-0.3, 15.1)
ax.set_yticks([0, 5, 10, 15])
ylab(ax, 'Polarisation [%]')
ax.legend(handles=[], title='Optical Polarisation', **LEG)

# 7 EVPA
ax = axes[6]
eb(ax, evpa_mjd, evpa_deg, 5, '#8a3d1c', fmt='o', ms=3)
ax.set_ylim(-268, 524)
ax.set_yticks([-200, 0, 200, 400])
ylab(ax, 'EVPA [deg]')
ax.legend(handles=[], title='EVPA', **LEG)

# 8 IR
ax = axes[7]
eb(ax, k_mjd, k_flux, ir_err, '#d4358f', fmt='o', ms=6, label='K band')
eb(ax, h_mjd, h_flux, ir_err, '#cf72b0', fmt='+', ms=6, label='H band')
eb(ax, j_mjd, j_flux, ir_err, '#7a2a8c', fmt='+', ms=6, label='J band')
ax.set_ylim(0.0074, 0.0332)
ax.set_yticks([0.01, 0.02, 0.03])
ylab(ax, 'Energy flux\n[Jy]')
ax.legend(title='IR (REM)', **LEG)

# 9 Radio
ax = axes[8]
eb(ax, ovro_mjd, ovro_flux, ovro_err, '#d42a2a', fmt='.', ms=3.5, label='OVRO 15 GHz')
eb(ax, r241_mjd, r241_flux, r241_err, '#5b8bd2', fmt='s', ms=5, label='24.1 GHz')
eb(ax, r2384_mjd, r2384_flux, 0.02, '#6b7b90', fmt='o', ms=5, label='23.84 GHz')
eb(ax, r852_mjd, r852_flux, r852_err, '#555555', fmt='o', ms=5, label='8.52 GHz')
eb(ax, r830_mjd, r830_flux, r830_err, '#3a9a9a', fmt='D', ms=4.5, label='8.30 GHz')
eb(ax, r512_mjd, r512_flux, r512_err, '#7fbf7f', fmt='D', ms=5, label='5.12 GHz')
eb(ax, r507_mjd, r507_flux, r507_err, '#b0b0b0', fmt='h', ms=5.5, label='5.07 GHz')
ax.set_ylim(0.05, 0.4)
ax.set_yticks([0.1, 0.2, 0.3, 0.4])
ylab(ax, 'Energy Flux\n[Jy]')
ax.legend(title='Radio', ncol=2, columnspacing=2.5, **LEG)

# watermark
fig.text(115 / W, 1 - 1017 / H, 'MAGIC Coll. 2024', color='#6bb8ee', fontsize=29,
         fontweight='heavy', family='Lato', va='baseline', ha='left')

fig.savefig('out.png', dpi=100)
